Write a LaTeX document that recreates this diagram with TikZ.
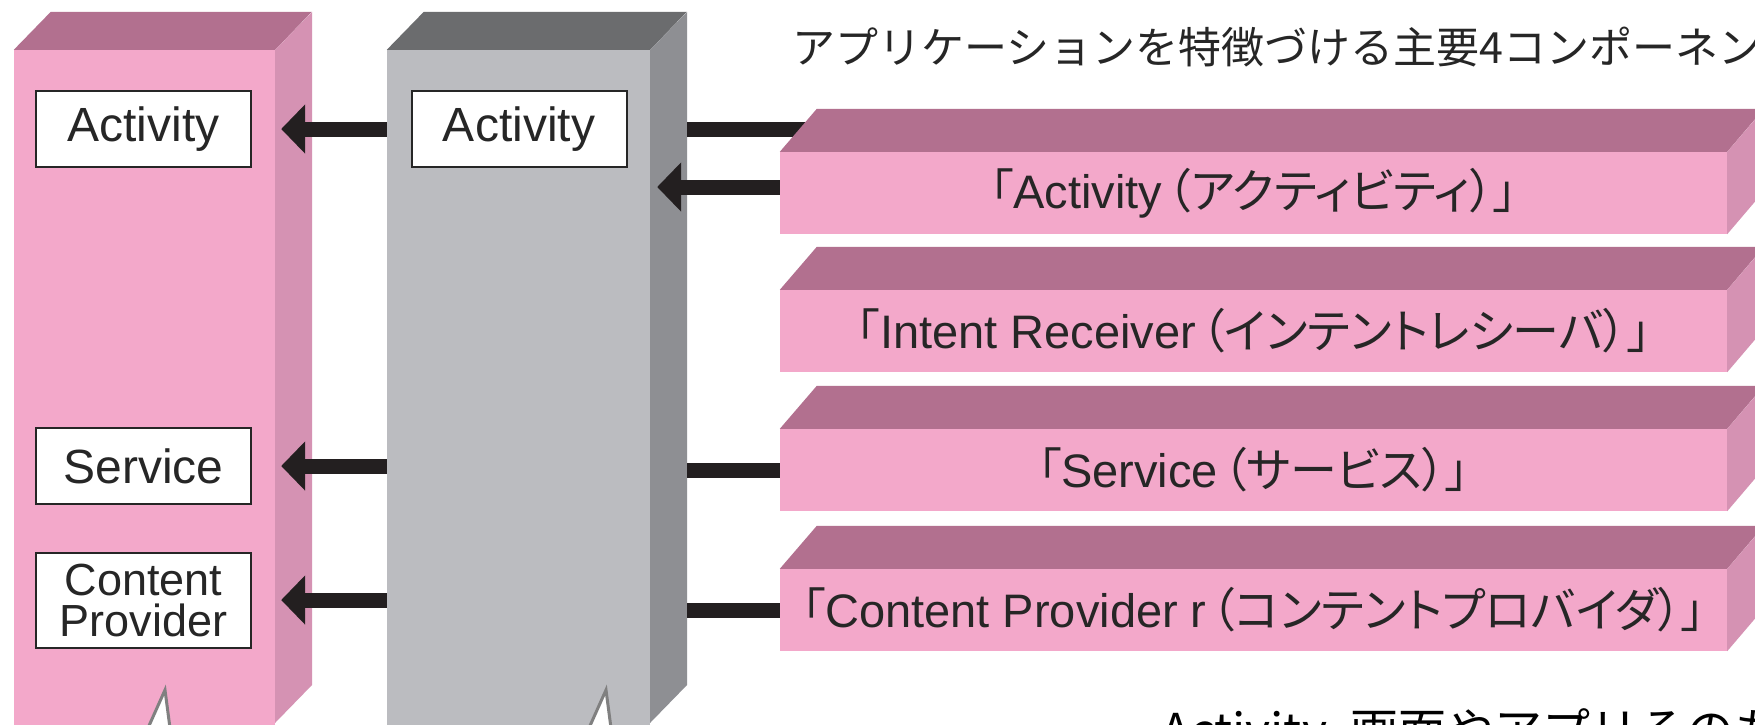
\documentclass[tikz,border=0pt]{standalone}
\usepackage{fontspec}
\setmainfont{Liberation Sans}
\newfontfamily\jpfont{Noto Sans CJK JP}
\newfontfamily\jpbar[RawFeature=+palt]{Noto Sans CJK JP}
\newcommand{\latn}[1]{{\normalfont#1}\kern5pt}
\usepackage{xcolor}
\usetikzlibrary{arrows.meta}
\definecolor{pkfront}{RGB}{243,168,202}
\definecolor{pktop}{RGB}{178,112,143}
\definecolor{pkside}{RGB}{213,146,179}
\definecolor{gyfront}{RGB}{187,188,192}
\definecolor{gytop}{RGB}{107,108,110}
\definecolor{gyside}{RGB}{142,143,147}
\definecolor{arrowblk}{RGB}{35,31,32}
\tikzset{
  colface/.style={inner sep=0pt, minimum height=680pt},
  compbar/.style={fill=pkfront, minimum width=947pt, minimum height=82pt, inner sep=0pt,
    font=\jpbar\fontsize{47}{52}\selectfont, text=black!85},
  labbox/.style={draw=black!85, line width=2pt, fill=white, minimum width=215pt,
    minimum height=76pt, inner sep=0pt, align=center, font=\fontsize{48}{40}\selectfont, text=black!85},
  fat/.style={line width=15pt, draw=arrowblk},
  fatarrow/.style={fat, -{Triangle[length=24pt,width=48pt]}},
  wedge/.style={draw=gray, line width=3pt, fill=white, line join=miter},
}
\begin{document}
\begin{tikzpicture}[x=1pt,y=-1pt]
\useasboundingbox (0,0) rectangle (1755,724);
\clip (0,0) rectangle (1755,724);
\fill[white] (0,0) rectangle (1755,724);

\node[colface, fill=pkfront, minimum width=261pt] (pcol) at (144.5,390) {};
\fill[pktop] (pcol.north west) -- ++(37,-38) -- ++(261,0) -- (pcol.north east) -- cycle;
\fill[pkside] (pcol.north east) -- ++(37,-38) -- ++(0,673) -- ++(-37,38) -- cycle;
\node[colface, fill=gyfront, minimum width=263pt] (gcol) at (518.5,390) {};
\fill[gytop] (gcol.north west) -- ++(37,-38) -- ++(263,0) -- (gcol.north east) -- cycle;
\fill[gyside] (gcol.north east) -- ++(37,-38) -- ++(0,673) -- ++(-37,38) -- cycle;

\node[anchor=west, inner sep=0pt, font=\jpfont\fontsize{43}{48}\selectfont, text=black!85] (ttl)
  at (792,47) {アプリケーションを特徴づける主要4コンポーネント};

\node[labbox] (pa) at (143.5,129) {Activity};
\node[labbox] (ps) at (143.5,466) {Service};
\node[labbox, minimum height=95pt, font=\fontsize{45}{41}\selectfont] (pc) at (143.5,600) {Content\\Provider};
\node[labbox] (ga) at (519,129) {Activity};

\coordinate (ptip) at ([xshift=6pt]pcol.east);
\coordinate (gtip) at ([xshift=7pt]gcol.east);
\coordinate (gside) at ([xshift=37pt]gcol.east);
\coordinate (barin) at (822,129);

\foreach \b in {pa,ps,pc}
  \draw[fatarrow] (gcol.west |- \b) -- (ptip |- \b);
\draw[fat] (gside |- ga) -- (barin);

\foreach \y/\n/\t in {193/b1/「\latn{Activity}（アクティビティ）」,
    331/b2/「\latn{Intent Receiver}（インテントレシーバ）」,
    470/b3/「\latn{Service}（サービス）」,
    610/b4/「\latn{Content Provider r}（コンテントプロバイダ）」}{
  \node[compbar] (\n) at (1253.5,\y) {\t};
  \fill[pktop] (\n.north west) -- ++(37,-43) -- ++(947,0) -- (\n.north east) -- cycle;
  \fill[pkside] (\n.north east) -- ++(37,-43) -- ++(0,82) -- (\n.south east) -- cycle;
}

\coordinate (b1in) at ([yshift=6pt]b1.west);
\draw[fatarrow] (b1in) -- (gtip |- b1in);
\draw[fat] (b3.west) -- (gside |- b3.west);
\draw[fat] (b4.west) -- (gside |- b4.west);

\node[anchor=base west, inner sep=0pt, font=\jpfont\fontsize{48}{52}\selectfont] (cap)
  at (1161,748) {Activity\enspace 画面やアプリそのも};

\draw[wedge] (148,728) -- (165,690) -- (170,728);
\draw[wedge] (589,728) -- (606,690) -- (611,728);
\end{tikzpicture}
\end{document}
